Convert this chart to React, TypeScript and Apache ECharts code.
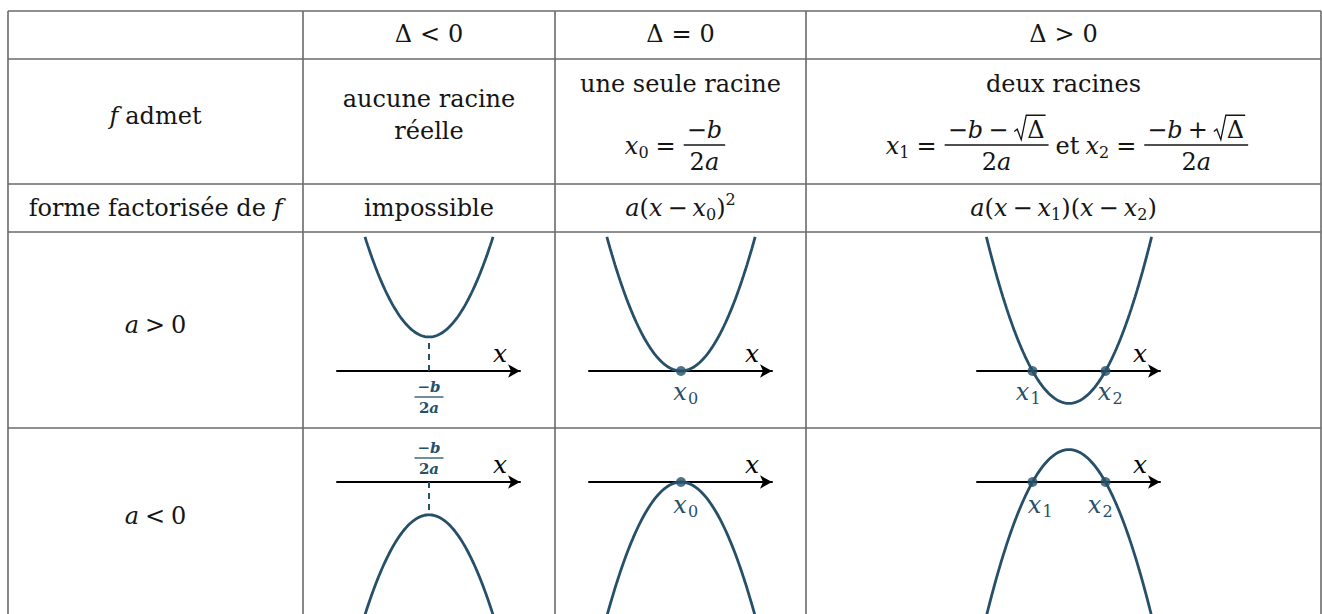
import React, { useEffect, useRef } from 'react';
import * as echarts from 'echarts';

// ---------- data ----------
const columnSigns = ['<', '=', '>'];
const rowSigns = ['>', '<'];
const leadCoef = [1, 1, 1, -1, -1, -1];
const vertexY = [0.83, 0, -0.79, -0.8, 0, 0.79];
const rootsX: number[][] = [[], [0], [-0.89, 0.89], [], [0], [-0.89, 0.89]];
const rootNames: string[][] = [[], ['0'], ['1', '2'], [], ['0'], ['1', '2']];
const curveEnd = 3.27;
const sampleCount = 90;

// ---------- layout / style ----------
const W = 1322;
const H = 614;
const colX = [8, 303, 555, 806, 1321];
const rowY = [11, 59, 184, 232, 428];
const cellCX = [429, 681, 1069];
const axisYs = [371, 482];
const U = 41;
const xMinU = -92 / U;
const xMaxU = 91 / U;
const BLUE = '#265069';
const TEXT = '#151515';
const LINE = '#6a6a6a';
const FAM = '"DejaVu Serif", serif';
const FS = 24;

type R = {
  t?: string; it?: boolean; fs?: number; dy?: number; b?: boolean; g?: number;
  num?: R[]; den?: R[]; sq?: R[];
};

let mctx: CanvasRenderingContext2D | null = null;
function fontOf(r: R, fs: number) {
  return `${r.it ? 'italic ' : ''}${r.b ? 'bold ' : ''}${fs}px ${FAM}`;
}
function measure(t: string, font: string) {
  if (!mctx) mctx = document.createElement('canvas').getContext('2d');
  mctx!.font = font;
  return mctx!.measureText(t).width;
}
function runW(r: R, fs: number): number {
  if (r.g !== undefined) return r.g;
  if (r.num) return Math.max(seqW(r.num, fs), seqW(r.den!, fs)) + 8;
  if (r.sq) return seqW(r.sq, fs) + 15;
  return measure(r.t!, fontOf(r, r.fs ?? fs));
}
function seqW(rs: R[], fs: number) {
  return rs.reduce((s, r) => s + runW(r, fs), 0);
}
function drawSeq(rs: R[], x: number, cy: number, fs: number, color: string, out: any[], bar = 1.3) {
  let cx = x;
  for (const r of rs) {
    drawRun(r, cx, cy, fs, color, out, bar);
    cx += runW(r, fs);
  }
}
function drawRun(r: R, x: number, cy: number, fs: number, color: string, out: any[], bar: number) {
  if (r.g !== undefined) return;
  const w = runW(r, fs);
  if (r.num) {
    const nw = seqW(r.num, fs);
    const dw = seqW(r.den!, fs);
    const by = cy - 1;
    drawSeq(r.num, x + (w - nw) / 2, by - fs * 0.64, fs, color, out, bar);
    drawSeq(r.den!, x + (w - dw) / 2, by + fs * 0.72, fs, color, out, bar);
    out.push({ type: 'line', z: 10, shape: { x1: x + 1, y1: by, x2: x + w - 1, y2: by }, style: { stroke: color, lineWidth: bar } });
    return;
  }
  if (r.sq) {
    const bw = seqW(r.sq, fs);
    const top = cy - fs * 0.6;
    const bot = cy + fs * 0.42;
    out.push({
      type: 'polyline', z: 10,
      shape: { points: [[x + 1, cy + fs * 0.08], [x + 4, cy - fs * 0.02], [x + 8, bot], [x + 13, top], [x + 15 + bw, top]] },
      style: { stroke: color, lineWidth: 1.3, fill: null },
    });
    drawSeq(r.sq, x + 14, cy, fs, color, out, bar);
    return;
  }
  out.push({
    type: 'text', z: 10, x, y: cy + (r.dy ?? 0),
    style: { text: r.t, font: fontOf(r, r.fs ?? fs), fill: color, textAlign: 'left', textVerticalAlign: 'middle' },
  });
}
function centered(rs: R[], cx: number, cy: number, out: any[], fs = FS, color = TEXT, bar = 1.3) {
  drawSeq(rs, cx - seqW(rs, fs) / 2, cy, fs, color, out, bar);
}

const sub = (t: string): R => ({ t, fs: 16, dy: 6 });
const sup = (t: string): R => ({ t, fs: 16, dy: -9 });
const it = (t: string): R => ({ t, it: true });
const tx = (t: string): R => ({ t });
const gap = (g: number): R => ({ g });

function cellOf(i: number) {
  return { r: Math.floor(i / 3), c: i % 3 };
}
function yRange(r: number) {
  const ay = axisYs[r];
  const top = rowY[3 + r];
  const bottom = r === 0 ? rowY[4] : H;
  return { yMax: (ay - top) / U, yMin: -(bottom - ay) / U, top, height: bottom - top };
}
function curve(i: number) {
  const a = leadCoef[i];
  const v = vertexY[i];
  const h = Math.sqrt((curveEnd * Math.sign(a) - v) / a);
  const pts: number[][] = [];
  for (let k = 0; k <= sampleCount; k++) {
    const x = -h + (2 * h * k) / sampleCount;
    pts.push([x, a * x * x + v]);
  }
  return pts;
}

function buildOption() {
  const grid: any[] = [];
  const xAxis: any[] = [];
  const yAxis: any[] = [];
  const series: any[] = [];
  for (let i = 0; i < 6; i++) {
    const { r, c } = cellOf(i);
    const yr = yRange(r);
    grid.push({
      left: cellCX[c] + xMinU * U, width: (xMaxU - xMinU) * U,
      top: yr.top, height: yr.height, containLabel: false, outerBoundsMode: 'none',
    });
    xAxis.push({
      type: 'value', gridIndex: i, min: xMinU, max: xMaxU,
      axisLine: { show: true, onZero: true, symbol: ['none', 'arrow'], symbolSize: [10, 12], lineStyle: { color: '#000', width: 2 } },
      axisTick: { show: false }, axisLabel: { show: false }, splitLine: { show: false },
    });
    yAxis.push({
      type: 'value', gridIndex: i, min: yr.yMin, max: yr.yMax, show: false,
      axisLine: { show: false }, splitLine: { show: false },
    });
    series.push({
      type: 'line', xAxisIndex: i, yAxisIndex: i, data: curve(i), showSymbol: false, symbol: 'none',
      lineStyle: { color: BLUE, width: 2.8 }, clip: true, silent: true, z: 3,
    });
    if (rootsX[i].length === 0) {
      series.push({
        type: 'line', xAxisIndex: i, yAxisIndex: i, data: [[0, 0], [0, vertexY[i]]], showSymbol: false, symbol: 'none',
        lineStyle: { color: BLUE, width: 2, type: [6, 5] }, silent: true, z: 2,
      });
    } else {
      series.push({
        type: 'scatter', xAxisIndex: i, yAxisIndex: i, data: rootsX[i].map((x) => [x, 0]),
        symbolSize: 10, itemStyle: { color: BLUE }, silent: true, z: 4,
      });
    }
  }
  return { animation: false, backgroundColor: '#fff', grid, xAxis, yAxis, series };
}

function buildGraphics(chart: echarts.ECharts) {
  const out: any[] = [];
  // table
  for (const y of rowY) {
    out.push({ type: 'line', z: 1, shape: { x1: colX[0], y1: y, x2: colX[4], y2: y }, style: { stroke: LINE, lineWidth: 1.6 } });
  }
  for (const x of colX) {
    out.push({ type: 'line', z: 1, shape: { x1: x, y1: rowY[0], x2: x, y2: H }, style: { stroke: LINE, lineWidth: 1.6 } });
  }
  const colC = [0, 1, 2, 3].map((k) => (colX[k] + colX[k + 1]) / 2);

  // header row
  columnSigns.forEach((s, k) => centered([tx('Δ'), gap(8), tx(s), gap(8), tx('0')], colC[k + 1], 34, out));

  // row 2
  centered([it('f'), gap(7), tx('admet')], colC[0], 116, out);
  centered([tx('aucune racine')], colC[1], 99, out);
  centered([tx('réelle')], colC[1], 131, out);
  centered([tx('une seule racine')], colC[2], 84, out);
  const fr0: R = { num: [tx('−'), it('b')], den: [tx('2'), it('a')] };
  centered([it('x'), sub('0'), gap(7), tx('='), gap(7), fr0], colC[2] - 5, 146, out);
  centered([tx('deux racines')], colC[3], 84, out);
  const frM: R = { num: [tx('−'), it('b'), gap(5), tx('−'), gap(5), { sq: [tx('Δ')] }], den: [tx('2'), it('a')] };
  const frP: R = { num: [tx('−'), it('b'), gap(5), tx('+'), gap(5), { sq: [tx('Δ')] }], den: [tx('2'), it('a')] };
  centered([
    it('x'), sub('1'), gap(7), tx('='), gap(7), frM, gap(6), tx('et'), gap(6),
    it('x'), sub('2'), gap(7), tx('='), gap(7), frP,
  ], colC[3] + 4, 146, out);

  // row 3
  centered([tx('forme factorisée de '), it('f')], colC[0], 208, out);
  centered([tx('impossible')], colC[1], 208, out);
  centered([it('a'), tx('('), it('x'), gap(5), tx('−'), gap(5), it('x'), sub('0'), tx(')'), sup('2')], colC[2], 208, out);
  centered([
    it('a'), tx('('), it('x'), gap(5), tx('−'), gap(5), it('x'), sub('1'), tx(')'),
    tx('('), it('x'), gap(5), tx('−'), gap(5), it('x'), sub('2'), tx(')'),
  ], colC[3], 208, out);

  // row heads
  rowSigns.forEach((s, r) => {
    const cy = r === 0 ? 325 : 516;
    centered([it('a'), gap(6), tx(s), gap(6), tx('0')], colC[0], cy, out);
  });

  // plot labels
  for (let i = 0; i < 6; i++) {
    const { r } = cellOf(i);
    const o = chart.convertToPixel({ gridIndex: i }, [0, 0]) as number[];
    const end = chart.convertToPixel({ gridIndex: i }, [xMaxU, 0]) as number[];
    out.push({
      type: 'text', z: 10, x: end[0] - 20, y: o[1] - 18,
      style: { text: 'x', font: `italic 25px ${FAM}`, fill: '#000', textAlign: 'center', textVerticalAlign: 'middle' },
    });
    if (rootsX[i].length === 0) {
      const fr: R = { num: [{ t: '−', b: true }, { t: 'b', it: true, b: true }], den: [{ t: '2', b: true }, { t: 'a', it: true, b: true }] };
      const barY = r === 0 ? o[1] + 26 : o[1] - 24;
      centered([fr], o[0], barY + 1, out, 15, BLUE, 1.3);
    } else {
      rootsX[i].forEach((x, k) => {
        const p = chart.convertToPixel({ gridIndex: i }, [x, 0]) as number[];
        let dx = -1;
        if (rootsX[i].length === 2) {
          dx = r === 0 ? (k === 0 ? -10 : -1) : (k === 0 ? 2 : -11);
        }
        const ly = p[1] + (r === 0 ? 21 : 23);
        out.push({
          type: 'text', z: 10, x: p[0] + dx, y: ly,
          style: { text: 'x', font: `italic 24px ${FAM}`, fill: BLUE, textAlign: 'center', textVerticalAlign: 'middle' },
        });
        out.push({
          type: 'text', z: 10, x: p[0] + dx + 13, y: ly + 6,
          style: { text: rootNames[i][k], font: `16px ${FAM}`, fill: BLUE, textAlign: 'center', textVerticalAlign: 'middle' },
        });
      });
    }
  }
  return out;
}

export default function App() {
  const ref = useRef<HTMLDivElement>(null);
  useEffect(() => {
    if (!ref.current) return;
    const chart = echarts.init(ref.current, null, { renderer: 'svg' });
    chart.setOption(buildOption());
    chart.setOption({ graphic: { elements: buildGraphics(chart) } });
    return () => chart.dispose();
  }, []);
  return (
    <div
      ref={ref}
      style={{ position: 'fixed', left: 0, top: 0, width: W, height: H, background: '#fff' }}
    />
  );
}
